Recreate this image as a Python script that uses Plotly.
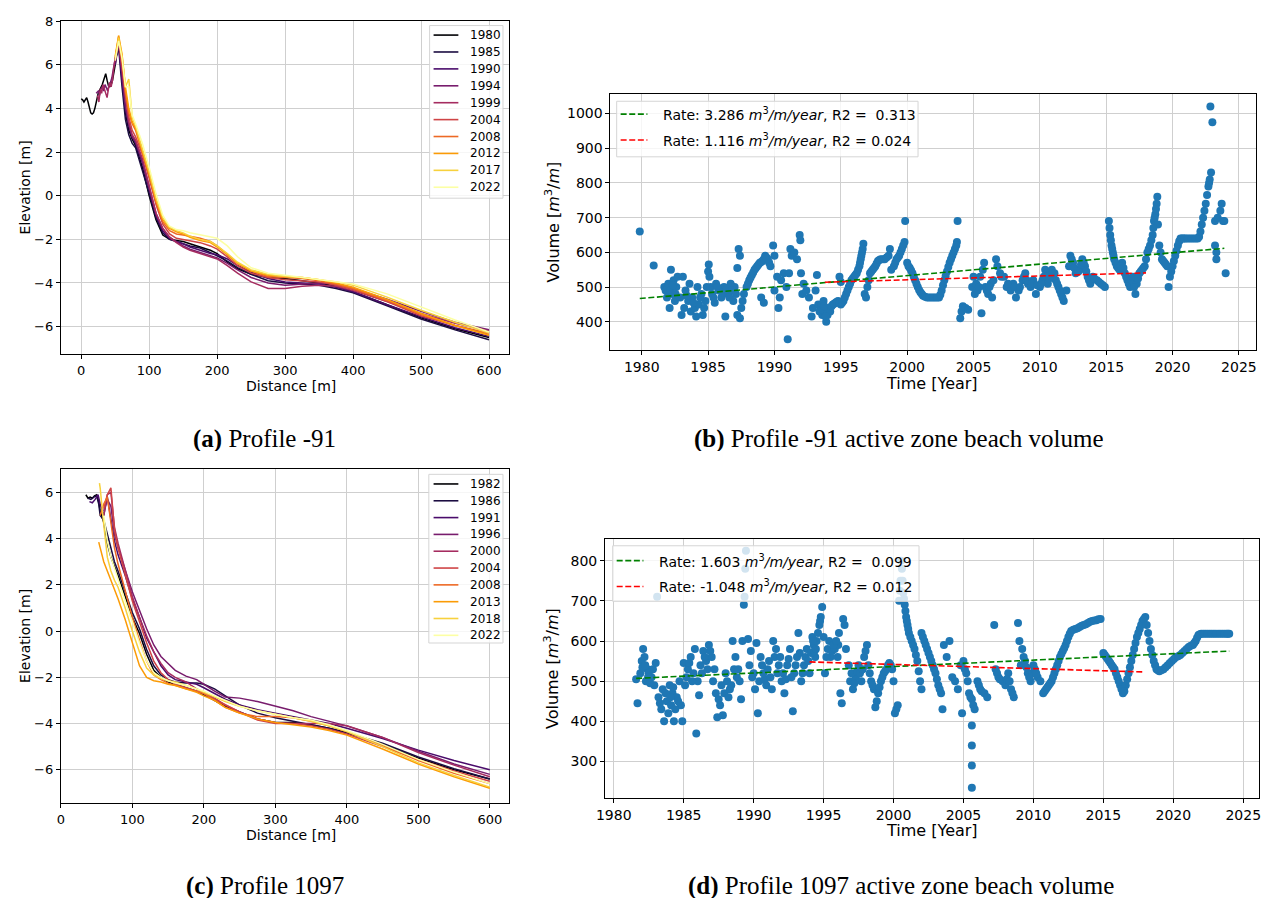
import plotly.graph_objects as go

W, H = 1266, 899

# ---------------- cross-shore profiles ----------------
# common cross-shore distance grid [m]
DIST = [55, 60, 65, 70, 75, 80, 90, 100, 110, 120, 130, 140, 150, 160, 175, 190,
        200, 215, 230, 250, 275, 300, 325, 350, 375, 400, 450, 500, 550, 600]

# Profile -91 : survey years, dune-front segments and elevations on DIST
YEARS_A = [1980, 1985, 1990, 1994, 1999, 2004, 2008, 2012, 2017, 2022]
FRONT_A = {
    1980: ([0, 2, 4, 6, 8, 10, 12, 14, 16, 18, 20, 22, 25, 28, 31, 34, 36, 38, 40, 42, 44, 46, 48, 50, 52],
           [4.45, 4.4, 4.3, 4.4, 4.5, 4.3, 4.0, 3.8, 3.75, 3.8, 4.0, 4.3, 4.7, 4.9, 5.1, 5.4, 5.6, 5.3, 5.05, 5.0, 5.1, 5.3, 5.6, 6.0, 6.5]),
    1985: ([50], [6.2]),
    1990: ([50], [6.0]),
    1994: ([22, 25, 27, 29, 31, 33, 35, 37, 39, 41, 43, 45, 47, 50],
           [4.7, 4.8, 4.6, 4.9, 5.0, 4.8, 5.1, 4.9, 4.8, 5.1, 5.2, 5.4, 5.8, 6.3]),
    1999: ([24, 26, 28, 30, 32, 34, 36, 38, 40, 42, 44, 46, 48, 50],
           [4.6, 4.3, 4.9, 4.7, 5.1, 4.9, 4.6, 4.5, 4.9, 5.2, 5.0, 5.3, 5.9, 6.3]),
    2004: ([50], [6.2]),
    2008: ([50], [6.3]),
    2012: ([50], [6.4]),
    2017: ([50], [6.3]),
    2022: ([50], [6.2]),
}
ELEV_A_1980 = [6.9, 5.6, 3.8, 3.0, 2.6, 2.3, 1.3, 0.0, -1.1, -1.8, -2.0, -2.05, -2.1, -2.2, -2.35, -2.5, -2.65, -3.05, -3.35, -3.6, -3.75, -3.8, -3.9, -4.0, -4.15, -4.4, -5.0, -5.6, -6.1, -6.5]
ELEV_A_1985 = [6.8, 5.0, 3.5, 2.8, 2.4, 2.2, 1.2, 0.1, -1.0, -1.7, -2.0, -2.1, -2.2, -2.3, -2.4, -2.6, -2.75, -3.0, -3.3, -3.6, -3.9, -4.0, -4.05, -4.1, -4.25, -4.45, -5.05, -5.65, -6.15, -6.6]
ELEV_A_1990 = [7.0, 5.3, 4.0, 3.2, 2.7, 2.4, 1.5, 0.3, -0.9, -1.6, -1.95, -2.1, -2.2, -2.35, -2.5, -2.65, -2.7, -2.9, -3.2, -3.5, -3.8, -3.95, -4.0, -4.05, -4.2, -4.4, -5.0, -5.55, -6.05, -6.45]
ELEV_A_1994 = [7.05, 5.5, 4.1, 3.3, 2.7, 2.5, 1.6, 0.4, -0.8, -1.5, -1.9, -2.1, -2.3, -2.45, -2.6, -2.75, -2.85, -3.1, -3.4, -3.75, -4.0, -4.1, -4.05, -4.0, -4.05, -4.25, -4.75, -5.3, -5.8, -6.15]
ELEV_A_1999 = [7.0, 5.8, 4.4, 3.4, 2.8, 2.55, 1.7, 0.5, -0.8, -1.5, -1.9, -2.15, -2.35, -2.5, -2.65, -2.8, -2.9, -3.2, -3.55, -3.95, -4.25, -4.25, -4.15, -4.1, -4.15, -4.35, -4.85, -5.4, -5.85, -6.2]
ELEV_A_2004 = [7.2, 6.0, 4.6, 3.6, 3.0, 2.7, 1.9, 0.8, -0.4, -1.3, -1.75, -1.95, -2.0, -2.05, -2.15, -2.3, -2.45, -2.8, -3.2, -3.55, -3.75, -3.85, -3.9, -3.95, -4.1, -4.3, -4.85, -5.5, -5.95, -6.3]
ELEV_A_2008 = [7.3, 6.2, 4.8, 3.8, 3.3, 3.0, 2.0, 0.9, -0.3, -1.2, -1.6, -1.75, -1.8, -1.85, -1.95, -2.1, -2.3, -2.7, -3.1, -3.45, -3.7, -3.75, -3.8, -3.9, -4.05, -4.25, -4.8, -5.45, -5.95, -6.35]
ELEV_A_2012 = [7.35, 6.5, 5.0, 4.0, 3.4, 3.1, 2.1, 1.0, -0.2, -1.1, -1.5, -1.65, -1.75, -1.9, -2.05, -2.15, -2.35, -2.7, -3.1, -3.45, -3.65, -3.7, -3.75, -3.85, -4.0, -4.2, -4.75, -5.4, -5.95, -6.4]
ELEV_A_2017 = [7.25, 6.4, 5.0, 5.35, 3.6, 3.2, 2.2, 1.1, -0.1, -1.0, -1.45, -1.6, -1.7, -1.85, -2.0, -2.1, -2.3, -2.65, -3.05, -3.4, -3.6, -3.7, -3.75, -3.85, -3.95, -4.1, -4.65, -5.25, -5.8, -6.3]
ELEV_A_2022 = [7.1, 6.3, 5.0, 5.0, 3.7, 3.3, 2.4, 1.3, 0.1, -0.9, -1.4, -1.55, -1.6, -1.7, -1.8, -1.9, -1.95, -2.3, -2.8, -3.3, -3.55, -3.65, -3.75, -3.85, -3.95, -4.05, -4.5, -5.1, -5.7, -6.25]
ELEV_A = [ELEV_A_1980, ELEV_A_1985, ELEV_A_1990, ELEV_A_1994, ELEV_A_1999,
          ELEV_A_2004, ELEV_A_2008, ELEV_A_2012, ELEV_A_2017, ELEV_A_2022]

# Profile 1097
YEARS_C = [1982, 1986, 1991, 1996, 2000, 2004, 2008, 2013, 2018, 2022]
FRONT_C = {
    1982: ([35, 38, 41, 44, 47, 50, 53], [5.9, 5.75, 5.8, 5.75, 5.85, 5.9, 5.6]),
    1986: ([38, 42, 46, 50, 53], [5.75, 5.7, 5.8, 5.85, 5.5]),
    1991: ([40, 44, 48, 52], [5.6, 5.55, 5.7, 5.9]),
    1996: ([], []),
    2000: ([], []),
    2004: ([], []),
    2008: ([], []),
    2013: ([53], [3.85]),
    2018: ([54], [6.4]),
    2022: ([], []),
}
ELEV_C_1982 = [5.2, 4.7, 3.8, 3.2, 2.8, 2.4, 1.5, 0.6, -0.1, -1.0, -1.7, -2.0, -2.2, -2.3, -2.45, -2.6, -2.75, -3.0, -3.25, -3.5, -3.8, -3.95, -3.95, -4.05, -4.2, -4.4, -4.9, -5.5, -6.0, -6.4]
ELEV_C_1986 = [5.0, 4.8, 4.2, 3.5, 3.0, 2.6, 1.7, 0.8, 0.1, -0.8, -1.5, -1.9, -2.1, -2.2, -2.25, -2.25, -2.3, -2.5, -2.8, -3.2, -3.55, -3.75, -3.9, -4.05, -4.2, -4.4, -4.85, -5.45, -5.95, -6.4]
ELEV_C_1991 = [5.5, 5.0, 5.8, 4.9, 3.9, 3.3, 2.4, 1.4, 0.6, -0.3, -0.9, -1.5, -1.9, -2.1, -2.2, -2.3, -2.45, -2.7, -2.95, -3.2, -3.4, -3.55, -3.7, -3.85, -4.0, -4.2, -4.65, -5.15, -5.6, -6.0]
ELEV_C_1996 = [None, 5.2, 5.7, 5.4, 4.2, 3.6, 2.6, 1.7, 0.9, 0.1, -0.6, -1.1, -1.4, -1.7, -1.95, -2.1, -2.3, -2.6, -2.85, -2.9, -3.05, -3.25, -3.45, -3.7, -3.9, -4.1, -4.6, -5.2, -5.75, -6.2]
ELEV_C_2000 = [None, 5.0, 5.9, 6.0, 4.5, 3.8, 2.6, 1.5, 0.6, -0.2, -0.9, -1.4, -1.8, -2.0, -2.2, -2.5, -2.65, -2.9, -3.2, -3.5, -3.8, -3.95, -4.0, -4.0, -4.0, -4.1, -4.6, -5.25, -5.8, -6.3]
ELEV_C_2004 = [None, 5.3, 5.9, 6.2, 4.4, 3.6, 2.4, 1.3, 0.4, -0.5, -1.3, -1.8, -2.1, -2.3, -2.45, -2.6, -2.7, -2.95, -3.2, -3.5, -3.85, -4.0, -4.0, -4.1, -4.25, -4.45, -5.0, -5.55, -6.05, -6.5]
ELEV_C_2008 = [5.0, 5.5, 5.8, 4.7, 3.6, 2.9, 1.7, 0.6, -0.4, -1.3, -1.9, -2.1, -2.25, -2.35, -2.5, -2.6, -2.7, -3.0, -3.3, -3.55, -3.7, -3.7, -3.75, -3.9, -4.1, -4.35, -4.95, -5.6, -6.15, -6.6]
ELEV_C_2013 = [3.6, 3.0, 2.6, 2.2, 1.8, 1.4, 0.5, -0.5, -1.5, -2.0, -2.15, -2.2, -2.3, -2.35, -2.5, -2.65, -2.8, -3.0, -3.3, -3.55, -3.8, -3.95, -4.05, -4.15, -4.3, -4.5, -5.1, -5.75, -6.3, -6.8]
ELEV_C_2018 = [6.2, 4.6, 3.2, 2.6, 2.2, 1.9, 1.0, 0.0, -0.9, -1.6, -1.9, -2.05, -2.15, -2.2, -2.35, -2.5, -2.65, -2.85, -3.05, -3.25, -3.45, -3.6, -3.75, -3.9, -4.1, -4.35, -5.0, -5.7, -6.25, -6.75]
ELEV_C_2022 = [None, 5.0, 3.9, 3.2, 2.7, 2.3, 1.3, 0.4, -0.5, -1.3, -1.8, -2.0, -2.15, -2.25, -2.35, -2.5, -2.6, -2.8, -3.0, -3.25, -3.45, -3.6, -3.75, -3.85, -4.05, -4.3, -4.9, -5.55, -6.1, -6.6]
ELEV_C = [ELEV_C_1982, ELEV_C_1986, ELEV_C_1991, ELEV_C_1996, ELEV_C_2000,
          ELEV_C_2004, ELEV_C_2008, ELEV_C_2013, ELEV_C_2018, ELEV_C_2022]

# inferno colour ramp, one step per survey
INFERNO_10 = ["#000004", "#1b0c41", "#4a0c6b", "#781c6d", "#a52c60",
              "#cf4446", "#ed6925", "#fb9b06", "#f7d13d", "#fcffa4"]

# ---------------- active zone volumes (year, m3/m) ----------------
VOL_B = [
    (1979.85, 660), (1980.9, 562),
    (1981.7, 500), (1981.8, 490), (1981.9, 470), (1982.0, 510), (1982.1, 440), (1982.2, 550), (1982.3, 480),
    (1982.4, 520), (1982.5, 460), (1982.6, 500), (1982.7, 530), (1982.9, 470),
    (1982.15, 490), (1982.35, 505), (1982.55, 480),
    (1983.0, 420), (1983.1, 530), (1983.2, 440), (1983.3, 490), (1983.5, 460), (1983.6, 510), (1983.7, 430),
    (1983.8, 470), (1984.0, 440), (1984.1, 415), (1984.2, 500), (1984.3, 450), (1984.5, 480), (1984.6, 420),
    (1984.8, 460), (1984.9, 500), (1985.0, 545), (1985.05, 565), (1985.1, 530), (1985.2, 500),
    (1983.4, 475), (1983.9, 455), (1984.4, 470), (1984.7, 440),
    (1985.3, 480), (1985.5, 455), (1985.6, 510), (1985.8, 490), (1986.0, 470), (1986.2, 500), (1986.3, 415),
    (1986.5, 480), (1986.7, 510), (1986.9, 460), (1987.0, 500), (1987.2, 555), (1987.3, 610), (1987.4, 590),
    (1987.2, 420), (1987.4, 410), (1987.5, 440), (1987.7, 480),
    (1985.4, 470), (1985.7, 500), (1986.1, 485), (1986.4, 495), (1986.6, 470), (1986.8, 490), (1987.1, 480),
    (1987.6, 460),
    (1987.9, 500), (1988.1, 520), (1988.3, 535), (1988.5, 550), (1988.7, 560), (1988.9, 570), (1989.1, 575),
    (1989.3, 590), (1989.5, 580), (1989.7, 560), (1989.9, 620), (1990.0, 590), (1989.0, 470), (1989.2, 455),
    (1988.0, 510), (1988.2, 528), (1988.4, 542), (1988.6, 555), (1988.8, 565), (1989.0, 572), (1989.2, 580),
    (1989.4, 585), (1989.6, 570),
    (1990.0, 490), (1990.2, 530), (1990.3, 440), (1990.4, 470), (1990.5, 520), (1990.7, 540), (1990.9, 500),
    (1991.0, 350), (1991.1, 540), (1991.2, 610), (1991.3, 590), (1991.5, 600), (1991.7, 580), (1991.9, 650),
    (1991.95, 635), (1992.0, 540), (1992.1, 480), (1992.2, 510),
    (1992.4, 490), (1992.6, 470), (1992.8, 415), (1992.9, 440), (1993.1, 490), (1993.2, 535), (1993.3, 450),
    (1993.4, 430),
    (1993.5, 440), (1993.6, 420), (1993.7, 460), (1993.8, 430), (1993.9, 400), (1994.0, 420), (1994.1, 440),
    (1994.2, 430), (1994.4, 450), (1994.6, 455), (1994.8, 460), (1995.0, 450), (1994.9, 530), (1995.0, 515),
    (1993.55, 450), (1993.65, 435), (1993.75, 445), (1993.85, 415), (1994.3, 445), (1994.5, 452), (1994.7, 458),
    (1994.9, 455),
    (1995.2, 460), (1995.4, 480), (1995.6, 500), (1995.8, 520), (1996.0, 530), (1996.2, 540), (1996.4, 560),
    (1996.5, 580), (1996.6, 600), (1996.7, 625), (1996.8, 480), (1996.9, 470), (1997.0, 500), (1997.2, 540),
    (1997.4, 550), (1997.6, 560), (1997.8, 575),
    (1995.1, 455), (1995.3, 470), (1995.5, 490), (1995.7, 510), (1995.9, 525), (1996.1, 535), (1996.3, 550),
    (1996.45, 570), (1996.55, 590), (1996.65, 610),
    (1998.0, 580), (1998.3, 580), (1998.6, 590), (1998.7, 610), (1998.8, 550), (1999.0, 560), (1999.2, 580),
    (1999.4, 590), (1999.6, 610), (1999.8, 630), (1999.85, 690), (2000.0, 570), (2000.2, 555),
    (1997.1, 520), (1997.3, 545), (1997.5, 555), (1997.7, 568), (1997.9, 578), (1998.15, 580), (1998.45, 585),
    (1999.1, 570), (1999.3, 585), (1999.5, 600), (1999.7, 620),
    (2000.4, 540), (2000.6, 520), (2000.8, 500), (2001.0, 485), (2001.2, 475), (2001.5, 470), (2001.8, 470),
    (2002.1, 470), (2002.4, 470),
    (2000.1, 560), (2000.3, 548), (2000.5, 530), (2000.7, 510), (2000.9, 492), (2001.1, 480), (2001.35, 472),
    (2001.65, 470), (2001.95, 470), (2002.25, 470), (2002.5, 478),
    (2002.6, 490), (2002.8, 520), (2003.0, 545), (2003.2, 570), (2003.4, 590), (2003.6, 610), (2003.75, 630),
    (2003.8, 690),
    (2002.7, 505), (2002.9, 532), (2003.1, 558), (2003.3, 580), (2003.5, 600), (2003.7, 620),
    (2004.0, 410), (2004.1, 430), (2004.2, 445), (2004.4, 440), (2004.6, 435),
    (2004.9, 500), (2005.0, 530), (2005.1, 480), (2005.3, 490), (2005.5, 530), (2005.6, 425), (2005.7, 550),
    (2005.8, 570), (2005.9, 500), (2006.1, 480), (2006.3, 510), (2006.5, 520), (2006.7, 580), (2006.8, 560),
    (2007.0, 540),
    (2005.2, 510), (2005.4, 500), (2006.0, 490), (2006.2, 500), (2006.4, 470),
    (2007.3, 530), (2007.5, 500), (2007.8, 490), (2008.0, 510), (2008.2, 470), (2008.4, 490), (2008.7, 520),
    (2008.9, 540), (2009.1, 510), (2009.3, 500), (2009.5, 520), (2009.7, 480), (2010.0, 500),
    (2007.1, 530), (2007.6, 510), (2008.1, 500), (2008.5, 500), (2008.8, 530), (2009.0, 520), (2009.4, 510),
    (2009.8, 505),
    (2010.2, 520), (2010.4, 550), (2010.6, 510), (2010.8, 540), (2011.0, 530), (2011.2, 520), (2011.4, 500),
    (2011.6, 480), (2011.8, 460), (2012.0, 490),
    (2010.1, 510), (2010.3, 530), (2010.5, 530), (2010.7, 525), (2010.9, 550), (2011.1, 540), (2011.3, 510),
    (2011.5, 490), (2011.7, 470),
    (2012.3, 590), (2012.5, 570), (2012.7, 540), (2013.0, 550), (2013.2, 580), (2013.4, 560), (2013.6, 530),
    (2013.8, 510), (2014.0, 530), (2014.3, 520), (2014.6, 510), (2014.9, 500),
    (2012.2, 560), (2012.4, 580), (2012.6, 555), (2012.9, 545), (2013.1, 565), (2013.3, 570), (2013.5, 545),
    (2013.7, 520), (2014.1, 525), (2014.45, 515), (2014.75, 505),
    (2015.2, 690), (2015.25, 670), (2015.3, 650), (2015.4, 620), (2015.5, 600), (2015.6, 580), (2015.8, 560),
    (2016.0, 550), (2016.2, 570), (2016.4, 540), (2016.6, 520), (2016.8, 500),
    (2015.35, 635), (2015.45, 610), (2015.55, 590), (2015.7, 570), (2015.9, 555),
    (2016.1, 560), (2016.3, 555), (2016.5, 530), (2016.7, 510), (2016.9, 520),
    (2017.0, 530), (2017.2, 480), (2017.3, 510), (2017.5, 540), (2017.7, 550), (2017.9, 560), (2018.1, 600),
    (2018.3, 620), (2018.5, 650), (2018.6, 690), (2018.7, 710), (2018.8, 740), (2018.85, 760), (2018.9, 680),
    (2019.0, 620),
    (2017.1, 500), (2017.4, 525), (2017.6, 545), (2017.8, 555), (2018.0, 580),
    (2018.2, 610), (2018.4, 635), (2018.55, 670), (2018.65, 700), (2018.75, 725),
    (2019.2, 580), (2019.4, 570), (2019.6, 560), (2019.7, 500), (2019.8, 530), (2020.0, 560), (2020.2, 590),
    (2020.4, 620), (2020.6, 640), (2020.8, 640), (2021.0, 640), (2021.3, 640), (2021.6, 640), (2021.9, 640),
    (2019.1, 600), (2019.3, 575), (2019.5, 565), (2019.9, 545),
    (2020.1, 575), (2020.3, 605), (2020.5, 632), (2020.7, 640), (2020.9, 640), (2021.15, 640), (2021.45, 640),
    (2021.75, 640), (2022.0, 645),
    (2022.1, 660), (2022.3, 700), (2022.5, 740), (2022.7, 790), (2022.8, 810), (2022.9, 830), (2022.85, 1020),
    (2022.2, 680), (2022.4, 720), (2022.6, 765), (2022.75, 800),
    (2023.0, 975), (2023.2, 690), (2023.3, 600), (2023.3, 580), (2023.2, 620), (2023.4, 700), (2023.6, 720),
    (2023.7, 740), (2023.8, 690), (2023.9, 690), (2024.0, 540),
]

VOL_D = [
    (1981.6, 505), (1981.7, 445),
    (1981.9, 520), (1982.0, 550), (1982.1, 580), (1982.2, 560), (1982.3, 500), (1982.4, 530), (1982.5, 520),
    (1982.7, 510), (1982.9, 490), (1983.0, 545), (1983.1, 710),
    (1982.05, 535), (1982.25, 540), (1982.45, 510), (1982.6, 495), (1982.8, 530),
    (1983.2, 460), (1983.4, 430), (1983.5, 480), (1983.6, 400), (1983.8, 450), (1984.0, 490), (1984.1, 440),
    (1984.2, 470), (1984.3, 400), (1984.5, 460), (1984.7, 500), (1984.8, 440), (1984.9, 400), (1985.0, 545),
    (1985.1, 490),
    (1983.3, 445), (1983.7, 470), (1983.9, 420), (1984.05, 460), (1984.25, 485), (1984.4, 430), (1984.6, 450),
    (1985.3, 530), (1985.5, 560), (1985.7, 520), (1985.8, 580), (1985.9, 370), (1986.0, 500), (1986.1, 465),
    (1986.2, 540), (1986.4, 575), (1986.6, 550), (1986.8, 590), (1987.0, 560), (1987.1, 500), (1987.3, 470),
    (1987.4, 410), (1987.6, 440), (1987.8, 415), (1988.0, 520),
    (1985.2, 510), (1985.4, 545), (1985.6, 500), (1986.3, 520), (1986.5, 560), (1986.7, 530), (1986.9, 575),
    (1987.2, 530), (1987.5, 455), (1987.7, 490), (1987.9, 470), (1988.1, 500), (1988.3, 480), (1988.6, 530),
    (1988.8, 510),
    (1988.2, 460), (1988.4, 490), (1988.5, 600), (1988.7, 560), (1988.9, 530), (1989.0, 500), (1989.1, 455),
    (1989.2, 600), (1989.3, 690), (1989.35, 710), (1989.4, 780), (1989.45, 825), (1989.6, 605), (1989.8, 575),
    (1990.0, 520), (1990.1, 480), (1990.2, 595), (1990.3, 420), (1990.5, 560),
    (1989.7, 540), (1989.9, 510), (1990.4, 500), (1990.6, 540), (1990.8, 505),
    (1990.7, 520), (1990.9, 490), (1991.1, 550), (1991.3, 480), (1991.4, 600), (1991.6, 580), (1991.8, 540),
    (1992.0, 500), (1992.2, 470), (1992.4, 540), (1992.6, 580), (1992.8, 425), (1992.9, 520), (1993.1, 560),
    (1993.2, 620), (1993.4, 500), (1993.6, 540), (1993.8, 580), (1994.0, 520),
    (1991.0, 530), (1991.2, 510), (1991.5, 560), (1991.7, 520), (1991.9, 560), (1992.1, 520), (1992.3, 505),
    (1992.5, 555), (1992.7, 510), (1993.0, 540), (1993.3, 570), (1993.5, 520), (1993.7, 560), (1993.9, 550),
    (1994.2, 610), (1994.3, 590), (1994.4, 560), (1994.5, 600), (1994.7, 640), (1994.8, 660), (1994.9, 685),
    (1995.0, 610), (1995.1, 520), (1995.3, 580), (1995.5, 560),
    (1994.1, 570), (1994.25, 600), (1994.35, 575), (1994.45, 580), (1994.6, 620), (1994.75, 650), (1995.2, 560),
    (1995.4, 600), (1995.6, 575), (1995.8, 580), (1996.05, 590),
    (1995.7, 590), (1995.9, 600), (1996.0, 560), (1996.1, 620), (1996.2, 470), (1996.3, 445), (1996.4, 655),
    (1996.5, 640), (1996.6, 580), (1996.8, 540), (1996.9, 500), (1997.1, 480),
    (1997.3, 510), (1997.5, 540), (1997.7, 500), (1997.9, 560), (1998.1, 590), (1998.2, 540), (1998.4, 500),
    (1998.6, 480), (1998.7, 435), (1998.9, 470), (1999.1, 500), (1999.3, 520), (1999.5, 530), (1999.7, 545),
    (1999.9, 530), (2000.0, 500),
    (1997.0, 520), (1997.2, 495), (1997.4, 525), (1997.6, 520), (1997.8, 530), (1998.0, 575), (1998.3, 520),
    (1998.5, 490), (1998.8, 450), (1999.0, 485), (1999.2, 510), (1999.4, 525), (1999.6, 540), (1999.8, 540),
    (2000.1, 420), (2000.2, 430), (2000.3, 440), (2000.4, 700), (2000.5, 750), (2000.55, 800), (2000.6, 780),
    (2000.7, 720), (2000.8, 690), (2000.9, 660), (2001.0, 640), (2001.1, 620), (2001.3, 600), (2001.5, 580),
    (2001.7, 550), (2001.9, 500), (2002.0, 480),
    (2000.45, 725), (2000.65, 750), (2000.75, 705), (2000.85, 675), (2000.95, 650), (2001.05, 630),
    (2001.2, 610), (2001.4, 590), (2001.6, 565), (2001.8, 525),
    (2002.0, 620), (2002.2, 600), (2002.4, 580), (2002.6, 560), (2002.8, 540), (2003.0, 520), (2003.2, 490),
    (2003.4, 470), (2003.5, 430), (2003.6, 590), (2003.8, 560), (2004.0, 600), (2004.2, 510), (2004.4, 500),
    (2004.6, 480), (2004.8, 540), (2004.9, 420), (2005.0, 550),
    (2002.1, 610), (2002.3, 590), (2002.5, 570), (2002.7, 550), (2002.9, 530), (2003.1, 505), (2003.3, 480),
    (2005.2, 520), (2005.4, 470), (2005.6, 455), (2005.7, 440), (2005.8, 430), (2005.6, 390), (2005.6, 340),
    (2005.6, 290), (2005.6, 235), (2006.0, 500), (2006.2, 480), (2006.5, 470), (2006.7, 460),
    (2005.1, 530), (2005.3, 500), (2005.5, 460), (2006.1, 490), (2006.3, 475),
    (2007.2, 640), (2007.3, 530), (2007.5, 510), (2007.8, 500), (2008.0, 490), (2008.2, 520), (2008.4, 480),
    (2008.6, 460), (2008.9, 645), (2009.0, 600), (2009.2, 580), (2009.1, 540), (2009.4, 550), (2009.6, 520),
    (2009.8, 500), (2010.0, 540),
    (2007.4, 520), (2007.6, 505), (2008.1, 505), (2008.3, 500), (2008.5, 470), (2009.3, 560), (2009.5, 535),
    (2009.7, 510), (2009.9, 520), (2010.1, 530), (2010.3, 510),
    (2010.2, 520), (2010.5, 500), (2010.7, 470), (2010.9, 480), (2011.1, 490), (2011.3, 500), (2011.5, 520),
    (2011.7, 540), (2011.9, 560), (2012.1, 575), (2012.3, 590), (2012.5, 610), (2012.7, 625), (2013.0, 630),
    (2013.3, 635), (2013.6, 640), (2013.9, 645), (2014.2, 650), (2014.5, 652), (2014.8, 655),
    (2010.8, 475), (2011.0, 485), (2011.2, 495), (2011.4, 510), (2011.6, 530), (2011.8, 550), (2012.0, 568),
    (2012.2, 582), (2012.4, 600), (2012.6, 618), (2012.85, 628), (2013.15, 632), (2013.45, 638), (2013.75, 642),
    (2014.05, 648), (2014.35, 651), (2014.65, 654),
    (2015.0, 570), (2015.2, 560), (2015.4, 550), (2015.6, 540), (2015.8, 530), (2016.0, 510), (2016.2, 490),
    (2016.4, 470),
    (2015.1, 565), (2015.3, 555), (2015.5, 545), (2015.7, 535), (2015.9, 520), (2016.1, 500), (2016.3, 480),
    (2016.6, 490), (2016.8, 520), (2017.0, 550), (2017.2, 580), (2017.4, 610), (2017.6, 630), (2017.8, 650),
    (2018.0, 660), (2018.2, 620), (2018.4, 580), (2018.6, 550), (2018.8, 530),
    (2016.5, 475), (2016.7, 505), (2016.9, 535), (2017.1, 565), (2017.3, 595), (2017.5, 620), (2017.7, 640),
    (2017.9, 655), (2018.1, 640), (2018.3, 600), (2018.5, 565), (2018.7, 540), (2018.9, 527),
    (2019.0, 525), (2019.3, 530), (2019.6, 540), (2019.9, 550), (2020.2, 560), (2020.5, 565), (2020.8, 575),
    (2021.1, 585), (2021.4, 590), (2021.6, 600), (2021.8, 615), (2022.0, 618), (2022.3, 618), (2022.6, 618),
    (2022.9, 618), (2023.2, 618), (2023.5, 618), (2023.8, 618), (2024.0, 618),
    (2019.15, 527), (2019.45, 535), (2019.75, 545), (2020.05, 555), (2020.35, 562), (2020.65, 570),
    (2020.95, 580), (2021.25, 588), (2021.5, 595), (2021.7, 608), (2021.9, 617), (2022.15, 618), (2022.45, 618),
    (2022.75, 618), (2023.05, 618), (2023.35, 618), (2023.65, 618), (2023.9, 618),
]

# linear trends: rate [m3/m/year], R2 text, start year, start volume, end year
TREND_B = [
    dict(rate=3.286, r2=" 0.313", t0=1979.85, v0=467, t1=2023.9, color="green"),
    dict(rate=1.116, r2="0.024", t0=1993.8, v0=514, t1=2018.0, color="red"),
]
TREND_D = [
    dict(rate=1.603, r2=" 0.099", t0=1981.6, v0=507, t1=2024.0, color="green"),
    dict(rate=-1.048, r2="0.012", t0=1994.0, v0=548, t1=2017.8, color="red"),
]

CAPTIONS = [
    ("(a)", "Profile -91", 258, 435),
    ("(b)", "Profile -91 active zone beach volume", 898, 435),
    ("(c)", "Profile 1097", 258, 886),
    ("(d)", "Profile 1097 active zone beach volume", 900, 886),
]

TREND_DASH = "6px,2.6px"

fig = go.Figure()
shapes = []
annotations = []


def px_x(p):
    return p / W


def px_y(p):
    return 1 - p / H


def label(text, x, y, size, angle=0, family="DejaVu Sans", xanchor="center", yanchor="middle",
          height=None):
    ann = dict(text=text, x=px_x(x), y=px_y(y), xref="paper", yref="paper",
               showarrow=False, textangle=angle, xanchor=xanchor, yanchor=yanchor,
               font=dict(family=family, size=size, color="black"))
    if height is not None:
        ann["height"] = height
        ann["valign"] = "middle"
    annotations.append(ann)


def legend_box(box, entries, sample, text_x, first_y, step, size, dash="solid"):
    """Framed legend: box=(x0, y0, x1, y1) in pixels, entries=[(colour, text)]."""
    x0, y0, x1, y1 = box
    shapes.append(dict(type="rect", xref="paper", yref="paper", layer="above",
                       x0=px_x(x0), x1=px_x(x1), y0=px_y(y1), y1=px_y(y0),
                       fillcolor="rgba(255,255,255,0.8)", line=dict(color="#d5d5d5", width=1)))
    for i, (color, text) in enumerate(entries):
        y = first_y + i * step
        shapes.append(dict(type="line", xref="paper", yref="paper", layer="above",
                           x0=px_x(sample[0]), x1=px_x(sample[1]), y0=px_y(y), y1=px_y(y),
                           line=dict(color=color, width=1.6, dash=dash)))
        label(text, text_x, y, size, xanchor="left")


def add_profiles(years, fronts, elevs, xa, ya):
    for i, yr in enumerate(years):
        fx, fy = fronts[yr]
        fig.add_trace(go.Scatter(
            x=list(fx) + DIST, y=list(fy) + elevs[i], mode="lines",
            line=dict(color=INFERNO_10[i], width=1.5), name=str(yr),
            xaxis=xa, yaxis=ya, showlegend=False, connectgaps=False))


def trend_label(tr):
    return ("Rate: %.3f <i>m</i><sup>3</sup><i>/m/year</i>, R2 = %s"
            % (tr["rate"], tr["r2"].replace(" ", "\u00a0")))


def add_volumes(points, trends, xa, ya):
    fig.add_trace(go.Scatter(
        x=[p[0] for p in points], y=[p[1] for p in points], mode="markers",
        marker=dict(color="#1f77b4", size=8, line=dict(width=0)),
        showlegend=False, xaxis=xa, yaxis=ya, name="Volume"))
    for tr in trends:
        v1 = tr["v0"] + tr["rate"] * (tr["t1"] - tr["t0"])
        fig.add_trace(go.Scatter(
            x=[tr["t0"], tr["t1"]], y=[tr["v0"], v1], mode="lines",
            line=dict(color=tr["color"], width=1.6, dash=TREND_DASH),
            name=trend_label(tr), xaxis=xa, yaxis=ya, showlegend=False))


add_profiles(YEARS_A, FRONT_A, ELEV_A, "x", "y")
add_volumes(VOL_B, TREND_B, "x2", "y2")
add_profiles(YEARS_C, FRONT_C, ELEV_C, "x3", "y3")
add_volumes(VOL_D, TREND_D, "x4", "y4")


def ax(dom, rng, tickvals, anchor, size):
    return dict(domain=dom, range=rng, tickvals=tickvals, anchor=anchor,
                showline=True, mirror=True, linecolor="black", linewidth=1,
                ticks="outside", ticklen=4, tickwidth=1, tickcolor="black",
                showgrid=True, gridcolor="#cfcfcf", gridwidth=1, zeroline=False,
                tickfont=dict(family="DejaVu Sans", size=size, color="black"))


def xd(a, b):
    return [a / W, b / W]


def yd(top, bottom):
    return [1 - bottom / H, 1 - top / H]


fig.update_layout(
    width=W, height=H, margin=dict(l=0, r=0, t=0, b=0),
    paper_bgcolor="white", plot_bgcolor="white", showlegend=False,
    font=dict(family="DejaVu Sans", color="black"),
    xaxis=ax(xd(52.3, 504.8), [-30, 630], list(range(0, 601, 100)), "y", 13),
    yaxis=ax(yd(14, 350), [-7.27, 8.02], list(range(-6, 9, 2)), "x", 13),
    xaxis2=ax(xd(606.7, 1257.7), [1977.64, 2026.27], list(range(1980, 2026, 5)), "y2", 14),
    yaxis2=ax(yd(87.7, 346), [318, 1056], list(range(400, 1001, 100)), "x2", 14),
    xaxis3=ax(xd(52.3, 504.5), [0, 627], list(range(0, 601, 100)), "y3", 13),
    yaxis3=ax(yd(465.7, 802.3), [-7.44, 7.01], list(range(-6, 7, 2)), "x3", 13),
    xaxis4=ax(xd(601.3, 1261), [1979.38, 2026.13], list(range(1980, 2026, 5)), "y4", 14),
    yaxis4=ax(yd(536, 797.3), [209, 854.4], list(range(300, 801, 100)), "x4", 14),
)

# legends
legend_box((424.3, 18.7, 498.3, 192.7),
           [(INFERNO_10[i], str(y)) for i, y in enumerate(YEARS_A)],
           (428.3, 453.3), 462.7, 28.3, 17.04, 12)
legend_box((423.5, 471.0, 498.3, 641.0),
           [(INFERNO_10[i], str(y)) for i, y in enumerate(YEARS_C)],
           (428.3, 453.3), 462.7, 480.7, 16.95, 12)
legend_box((613, 95, 917, 151),
           [(tr["color"], trend_label(tr)) for tr in TREND_B],
           (617, 644), 658, 108, 26, 14, dash=TREND_DASH)
legend_box((609, 543, 918, 599),
           [(tr["color"], trend_label(tr)) for tr in TREND_D],
           (613, 640), 654, 558, 26, 14, dash=TREND_DASH)

# axis titles
volume_title = "Volume [<i>m</i><sup>3</sup>/<i>m</i>]"
label("Elevation [m]", 16, 182, 14, -90)
label("Distance [m]", 284, 382, 14)
label(volume_title, 548, 217, 16, -90)
label("Time [Year]", 931, 379, 16)
label("Elevation [m]", 16, 634, 14, -90)
label("Distance [m]", 284, 834, 14)
label(volume_title, 548, 667, 16, -90)
label("Time [Year]", 931, 830, 16)

# sub-figure captions
for tag, text, cx, cy in CAPTIONS:
    label("<b>%s</b> %s" % (tag, text), cx, cy, 25, family="Liberation Serif", height=24)

fig.update_layout(shapes=shapes, annotations=annotations)
fig.write_html("out.html")
